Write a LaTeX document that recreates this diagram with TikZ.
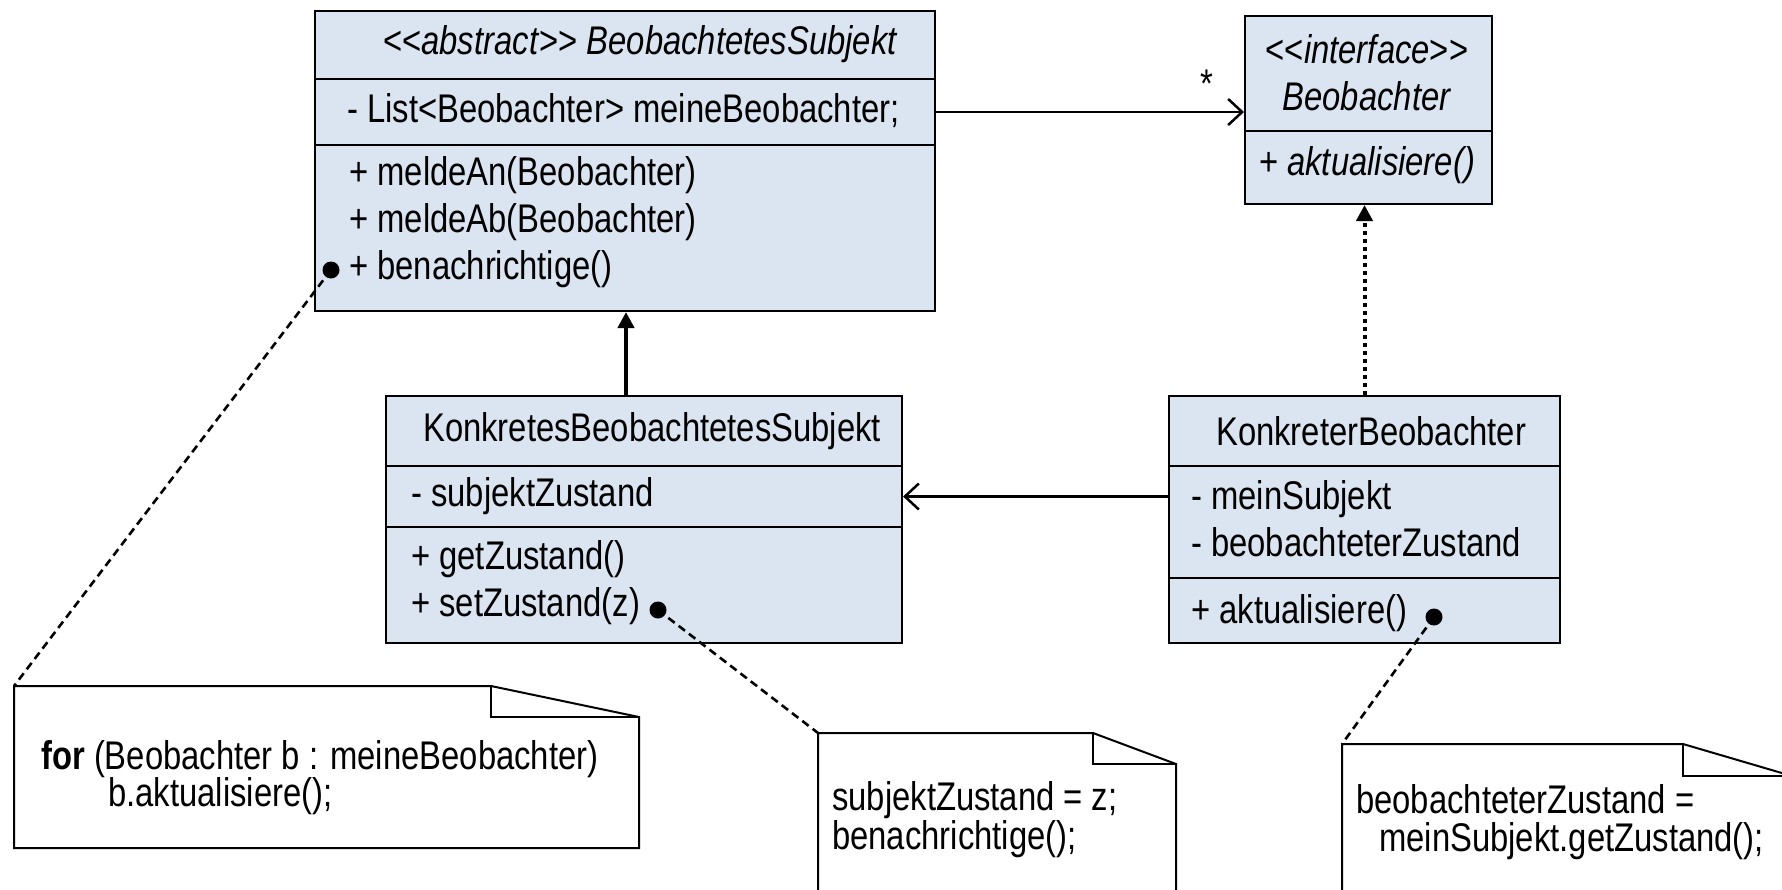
\documentclass[tikz,border=0pt]{standalone}
\usepackage{fontspec}
\setmainfont[FakeStretch=0.82,Ligatures=TeXOff]{Liberation Sans}
\usetikzlibrary{arrows.meta,calc}
\definecolor{boxfill}{RGB}{219,229,241}
\begin{document}
\begin{tikzpicture}[x=1pt,y=-1pt,
  comp/.style={draw=black,line width=2pt,fill=boxfill,rectangle,inner sep=0pt,anchor=north west},
  txt/.style={inner sep=0pt,anchor=west,align=left,font=\fontsize{40}{47}\selectfont},
  ctxt/.style={inner sep=0pt,anchor=center,align=center,font=\fontsize{40}{47}\selectfont},
  ntxt/.style={inner sep=0pt,anchor=west,align=left,font=\fontsize{40}{39}\selectfont},
  dotmark/.style={circle,fill=black,inner sep=0pt,minimum size=17pt},
  assoc/.style={line width=2.5pt,-{Straight Barb[length=14pt,width=26pt,line width=2.5pt]}},
  inherit/.style={line width=4pt,-{Triangle[length=16pt,width=16pt]}},
  realize/.style={line width=4pt,dash pattern=on 4pt off 4pt,-{Triangle[length=16pt,width=16pt]}},
  notelink/.style={line width=2.6pt,dash pattern=on 8pt off 5pt},
  notebox/.style={draw=black,line width=2pt,fill=white,line join=miter}
]
\useasboundingbox (0,0) rectangle (1782,889);
\clip (0,0) rectangle (1782,889);

% BeobachtetesSubjekt
\node[comp,minimum width=620pt,minimum height=68pt] (s-title) at (314,10) {};
\node[comp,minimum width=620pt,minimum height=66pt] (s-attr) at (314,78) {};
\node[comp,minimum width=620pt,minimum height=166pt] (s-meth) at (314,144) {};
\node[txt] (s-t) at (383,44) {<<\textit{abstract}>> \textit{BeobachtetesSubjekt}};
\node[txt] (s-a) at (347,111) {- List<Beobachter> meineBeobachter;};
\node[txt] (s-m) at (349,222) {+ meldeAn(Beobachter)\\+ meldeAb(Beobachter)\\+ benachrichtige()};
\node[dotmark] (d1) at (331,270) {};

% Beobachter interface
\node[comp,minimum width=247pt,minimum height=115pt] (o-title) at (1244,15) {};
\node[comp,minimum width=247pt,minimum height=73pt] (o-meth) at (1244,130) {};
\node[ctxt] (o-t) at (1367,73) {<<\textit{interface}>>\\\textit{Beobachter}};
\node[ctxt] (o-m) at (1367,165) {+ \textit{aktualisiere()}};

% KonkretesBeobachtetesSubjekt
\node[comp,minimum width=516pt,minimum height=70pt] (ks-title) at (385,395) {};
\node[comp,minimum width=516pt,minimum height=61pt] (ks-attr) at (385,465) {};
\node[comp,minimum width=516pt,minimum height=116pt] (ks-meth) at (385,526) {};
\node[txt] (ks-t) at (423,431) {KonkretesBeobachtetesSubjekt};
\node[txt] (ks-a) at (411,496) {- subjektZustand};
\node[txt] (ks-m) at (411,583) {+ getZustand()\\+ setZustand(z)};
\node[dotmark] (d2) at (658,610) {};

% KonkreterBeobachter
\node[comp,minimum width=391pt,minimum height=70pt] (k-title) at (1168,395) {};
\node[comp,minimum width=391pt,minimum height=112pt] (k-attr) at (1168,465) {};
\node[comp,minimum width=391pt,minimum height=65pt] (k-meth) at (1168,577) {};
\node[txt] (k-t) at (1216,431) {KonkreterBeobachter};
\node[txt] (k-a) at (1191,519) {- meinSubjekt\\- beobachteterZustand};
\node[txt] (k-m) at (1191,613) {+ aktualisiere()};
\node[dotmark] (d3) at (1434,617) {};

% connectors
\draw[assoc] (s-attr.east) -- (s-attr.east -| o-title.west);
\node[inner sep=0pt,font=\fontsize{40}{47}\selectfont] (star) at (1207,84) {*};
\draw[assoc] (k-attr.west |- ks-attr.east) -- (ks-attr.east);
\draw[inherit] ([xshift=-18pt]ks-title.north) -- ([xshift=-18pt]ks-title.north |- s-meth.south);
\draw[realize] (k-title.north) -- (k-title.north |- o-meth.south);

% note 1
\coordinate (n1) at (14,686);
\draw[notebox] (n1) -- (491,686) -- (639,717) -- (639,848) -- (14,848) -- cycle;
\draw[line width=2pt] (491,686) -- (491,717) -- (639,717);
\node[ntxt] (n1a) at (41,759) {\textbf{for} (Beobachter b : meineBeobachter)};
\node[ntxt] (n1b) at (108,796) {b.aktualisiere();};

% note 2
\coordinate (n2) at (818,733);
\draw[notebox] (n2) -- (1093,733) -- (1176,764) -- (1176,960) -- (818,960) -- cycle;
\draw[line width=2pt] (1093,733) -- (1093,764) -- (1176,764);
\node[ntxt] (n2a) at (832,820) {subjektZustand = z;\\benachrichtige();};

% note 3
\coordinate (n3) at (1342,744);
\draw[notebox] (n3) -- (1683,744) -- (1792,776) -- (1792,960) -- (1342,960) -- cycle;
\draw[line width=2pt] (1683,744) -- (1683,776) -- (1792,776);
\node[ntxt] (n3a) at (1356,799) {beobachteterZustand =};
\node[ntxt] (n3b) at (1379,841) {meinSubjekt.getZustand();};

% note links
\draw[notelink] (d1.center) -- (n1);
\draw[notelink] (d2.center) -- (n2);
\draw[notelink] (d3.center) -- (n3);
\end{tikzpicture}
\end{document}
